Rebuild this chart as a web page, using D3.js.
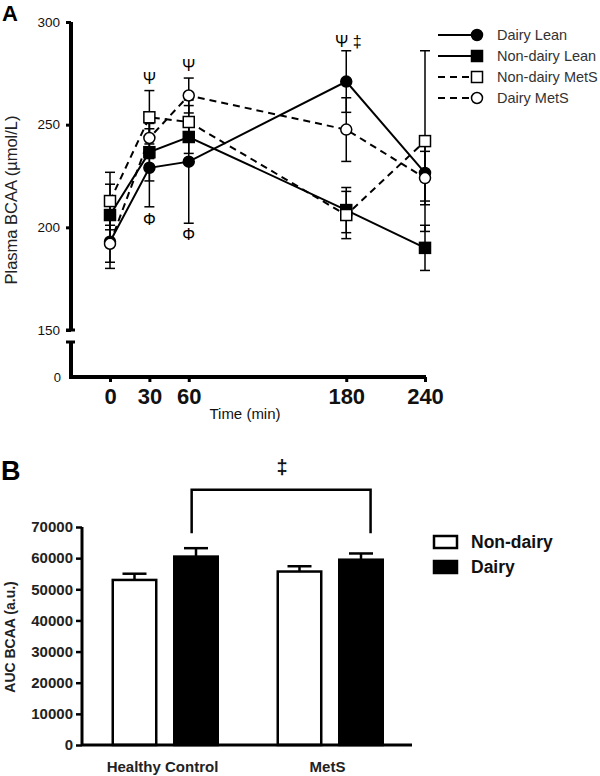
<!DOCTYPE html>
<html><head><meta charset="utf-8">
<script src="https://cdn.jsdelivr.net/npm/d3@7"></script>
<style>body{margin:0;background:#fff}svg{display:block}text{font-family:"Liberation Sans",Arial,Helvetica,sans-serif}</style>
</head><body><svg id="c" width="600" height="776"></svg>
<script>
// ---------- Panel A data ----------
const times = [0, 30, 60, 180, 240];
const timeTicks = [0, 30, 60, 180, 240];
const yTicksA = [150, 200, 250, 300];
const seriesNames = ["Dairy Lean", "Non-dairy Lean", "Non-dairy MetS", "Dairy MetS"];
const dairyLean = [193, 229, 232, 271, 226.5];
const dairyLeanErr = [13, 19, 30, 15, 13.7];
const nonDairyLean = [206, 236.6, 244, 208.4, 190];
const nonDairyLeanErr = [15, 14, 8, 11, 11];
const nonDairyMetS = [212.8, 253.6, 251.3, 206, 242];
const nonDairyMetSErr = [14, 13, 8, 11.5, 44];
const dairyMetS = [192, 243.5, 264.2, 247.6, 224];
const dairyMetSErr = [9, 10, 8.5, 15.5, 13];
const annotTimes = [30, 60, 180, 30, 60];
const annotLevels = [272, 278, 290, 203, 196];
const annotTexts = ["\u03A8", "\u03A8", "\u03A8 \u2021", "\u03A6", "\u03A6"];

// ---------- Panel B data ----------
const groups = ["Healthy Control", "MetS"];
const diets = ["Non-dairy", "Dairy"];
const aucNonDairy = [53000, 55700];
const aucNonDairyErr = [2000, 1700];
const aucDairy = [60500, 59500];
const aucDairyErr = [2700, 2000];
const yTicksB = [0, 10000, 20000, 30000, 40000, 50000, 60000, 70000];

const svg = d3.select("#c");
const FONT = '"Liberation Sans",Arial,Helvetica,sans-serif';

// ================= PANEL A =================
const xA = d3.scaleLinear().domain([0, 240]).range([110, 425]);
const yA = d3.scaleLinear().domain([150, 300]).range([330, 22]);
const yLow = d3.scaleLinear().domain([0, 150]).range([377, 342]);
const axX = 71;

svg.append("text").attr("x", 2).attr("y", 21).attr("font-size", 22).attr("font-weight", "bold").text("A");

// y axis upper
const gyA = svg.append("g").attr("transform", `translate(${axX},0)`)
  .call(d3.axisLeft(yA).tickValues(yTicksA).tickSize(5).tickPadding(6).tickFormat(d3.format("d")));
gyA.select(".domain").attr("stroke-width", 4).attr("d", `M0,${yA(300)}V${yA(150)+1}`);
gyA.selectAll(".tick line").attr("stroke-width", 3);
gyA.selectAll(".tick text").attr("font-size", 13.5).attr("font-family", FONT).attr("fill", "#111");
// break caps
svg.append("line").attr("x1", axX - 5).attr("x2", axX + 4).attr("y1", yA(150)).attr("y2", yA(150)).attr("stroke", "#000").attr("stroke-width", 3);
svg.append("line").attr("x1", axX - 5).attr("x2", axX + 4).attr("y1", yLow(150)).attr("y2", yLow(150)).attr("stroke", "#000").attr("stroke-width", 3);
// y axis lower
const gyL = svg.append("g").attr("transform", `translate(${axX},0)`)
  .call(d3.axisLeft(yLow).tickValues([0]).tickSize(0).tickPadding(10));
gyL.select(".domain").attr("stroke-width", 4).attr("d", `M0,${yLow(150)}V${yLow(0)}`);
gyL.selectAll(".tick text").attr("font-size", 13).attr("font-family", FONT).attr("fill", "#111");

// x axis
const gxA = svg.append("g").attr("transform", `translate(0,${yLow(0)})`)
  .call(d3.axisBottom(xA).tickValues(timeTicks).tickSize(5).tickPadding(6).tickFormat(d3.format("d")));
gxA.select(".domain").attr("stroke-width", 4).attr("d", `M${axX - 2},0H${xA(240) + 1}`);
gxA.selectAll(".tick line").attr("stroke-width", 3);
gxA.selectAll(".tick text").attr("font-size", 22).attr("font-weight", "bold").attr("font-family", FONT).attr("fill", "#111");

svg.append("text").attr("x", 245).attr("y", 419).attr("text-anchor", "middle").attr("font-size", 15).attr("fill", "#111").text("Time (min)");
svg.append("text").attr("transform", "translate(17,200) rotate(-90)").attr("text-anchor", "middle")
  .attr("font-size", 16.5).attr("fill", "#222").text("Plasma BCAA (\u00B5mol/L)");

const series = [
  {name: seriesNames[0], vals: dairyLean, err: dairyLeanErr, dash: null, shape: "circle", fill: "#000"},
  {name: seriesNames[1], vals: nonDairyLean, err: nonDairyLeanErr, dash: null, shape: "square", fill: "#000"},
  {name: seriesNames[2], vals: nonDairyMetS, err: nonDairyMetSErr, dash: "7,5", shape: "square", fill: "#fff"},
  {name: seriesNames[3], vals: dairyMetS, err: dairyMetSErr, dash: "7,5", shape: "circle", fill: "#fff"}
];

// error bars
series.forEach(s => {
  const g = svg.append("g").attr("stroke", "#000").attr("stroke-width", 1.5);
  times.forEach((t, i) => {
    const x = xA(t), y1 = yA(s.vals[i] - s.err[i]), y2 = yA(s.vals[i] + s.err[i]);
    g.append("line").attr("x1", x).attr("x2", x).attr("y1", y1).attr("y2", y2);
    g.append("line").attr("x1", x - 5).attr("x2", x + 5).attr("y1", y1).attr("y2", y1);
    g.append("line").attr("x1", x - 5).attr("x2", x + 5).attr("y1", y2).attr("y2", y2);
  });
});

const lineGen = d3.line().x((d, i) => xA(times[i])).y(d => yA(d));
series.forEach(s => {
  svg.append("path").attr("d", lineGen(s.vals)).attr("fill", "none").attr("stroke", "#000")
    .attr("stroke-width", 2).attr("stroke-dasharray", s.dash);
});

function marker(g, shape, x, y, fill) {
  if (shape === "circle") {
    g.append("circle").attr("cx", x).attr("cy", y).attr("r", 5.5).attr("fill", fill).attr("stroke", "#000").attr("stroke-width", 1.5);
  } else {
    g.append("rect").attr("x", x - 5.5).attr("y", y - 5.5).attr("width", 11).attr("height", 11).attr("fill", fill).attr("stroke", "#000").attr("stroke-width", 1.5);
  }
}
series.forEach(s => {
  const g = svg.append("g");
  times.forEach((t, i) => marker(g, s.shape, xA(t), yA(s.vals[i]), s.fill));
});

// annotations
annotTexts.forEach((txt, i) => {
  svg.append("text").attr("x", xA(annotTimes[i]) + (i === 2 ? 2 : 0)).attr("y", yA(annotLevels[i]))
    .attr("text-anchor", "middle").attr("dominant-baseline", "middle")
    .attr("font-size", 16).attr("font-family", '"Liberation Serif","Times New Roman",serif').attr("fill", "#000").text(txt);
});

// legend A
series.forEach((s, i) => {
  const y = 35 + i * 21;
  const g = svg.append("g");
  g.append("line").attr("x1", 438).attr("x2", 483).attr("y1", y).attr("y2", y).attr("stroke", "#000")
    .attr("stroke-width", 2).attr("stroke-dasharray", s.dash);
  marker(g, s.shape, 477, y, s.fill);
  g.append("text").attr("x", 497).attr("y", y + 5).attr("font-size", 14.5).attr("fill", "#333").text(s.name);
});

// ================= PANEL B =================
const yB = d3.scaleLinear().domain([0, 70000]).range([745, 527]);
const x0 = d3.scaleBand().domain(groups).range([82, 412]);
const x1 = d3.scaleBand().domain(diets).range([30.75, 135.75]).paddingInner(0.293);
const axBX = 82;

svg.append("text").attr("x", 1).attr("y", 480).attr("font-size", 27).attr("font-weight", "bold").text("B");

const gyB = svg.append("g").attr("transform", `translate(${axBX},0)`)
  .call(d3.axisLeft(yB).tickValues(yTicksB).tickSize(6).tickPadding(3).tickFormat(d3.format("d")));
gyB.select(".domain").attr("stroke-width", 3).attr("d", `M0,${yB(70000)}V${yB(0)}`);
gyB.selectAll(".tick line").attr("stroke-width", 2.5);
gyB.selectAll(".tick text").attr("font-size", 15).attr("font-weight", "bold").attr("font-family", FONT).attr("fill", "#222");

svg.append("text").attr("transform", "translate(15,637) rotate(-90)").attr("text-anchor", "middle")
  .attr("font-size", 14).attr("font-weight", "bold").attr("fill", "#222").text("AUC BCAA (a.u.)");

const barData = [];
groups.forEach((gname, gi) => {
  barData.push({group: gname, diet: diets[0], v: aucNonDairy[gi], e: aucNonDairyErr[gi]});
  barData.push({group: gname, diet: diets[1], v: aucDairy[gi], e: aucDairyErr[gi]});
});
const bw = x1.bandwidth();
barData.forEach(d => {
  const xl = x0(d.group) + x1(d.diet);
  const cx = xl + bw / 2;
  svg.append("line").attr("x1", cx).attr("x2", cx).attr("y1", yB(d.v)).attr("y2", yB(d.v + d.e)).attr("stroke", "#000").attr("stroke-width", 2.5);
  svg.append("line").attr("x1", cx - 12).attr("x2", cx + 12).attr("y1", yB(d.v + d.e)).attr("y2", yB(d.v + d.e)).attr("stroke", "#000").attr("stroke-width", 2.5);
  svg.append("rect").attr("x", xl).attr("y", yB(d.v)).attr("width", bw).attr("height", yB(0) - yB(d.v))
    .attr("fill", d.diet === "Dairy" ? "#000" : "#fff").attr("stroke", "#000").attr("stroke-width", 2.5);
});

// x axis B
svg.append("line").attr("x1", axBX).attr("x2", 412).attr("y1", yB(0)).attr("y2", yB(0)).attr("stroke", "#000").attr("stroke-width", 3);
groups.forEach(gname => {
  svg.append("text").attr("x", x0(gname) + x0.bandwidth() / 2 - 2).attr("y", 772).attr("text-anchor", "middle")
    .attr("font-size", 15).attr("font-weight", "bold").attr("fill", "#222").text(gname);
});

// significance bracket
const bxL = x0(groups[0]) + x1(diets[1]) + bw * 0.4;
const bxR = x0(groups[1]) + x1(diets[1]) + bw * 0.72;
svg.append("path").attr("d", `M${bxL},${yB(68000)}V${yB(82000)}H${bxR}V${yB(68000)}`)
  .attr("fill", "none").attr("stroke", "#000").attr("stroke-width", 2.5);
svg.append("text").attr("x", (bxL + bxR) / 2 + 1).attr("y", yB(88600)).attr("text-anchor", "middle").attr("dominant-baseline", "middle")
  .attr("font-size", 20).attr("font-weight", "bold").attr("fill", "#111").text("\u2021");

// legend B
diets.forEach((dname, i) => {
  const y = 536 + i * 25;
  svg.append("rect").attr("x", 434).attr("y", y).attr("width", 23).attr("height", 12)
    .attr("fill", dname === "Dairy" ? "#000" : "#fff").attr("stroke", "#000").attr("stroke-width", 2.5);
  svg.append("text").attr("x", 471).attr("y", y + 12).attr("font-size", 17.5).attr("font-weight", "bold").attr("fill", "#111").text(dname);
});
</script></body></html>
